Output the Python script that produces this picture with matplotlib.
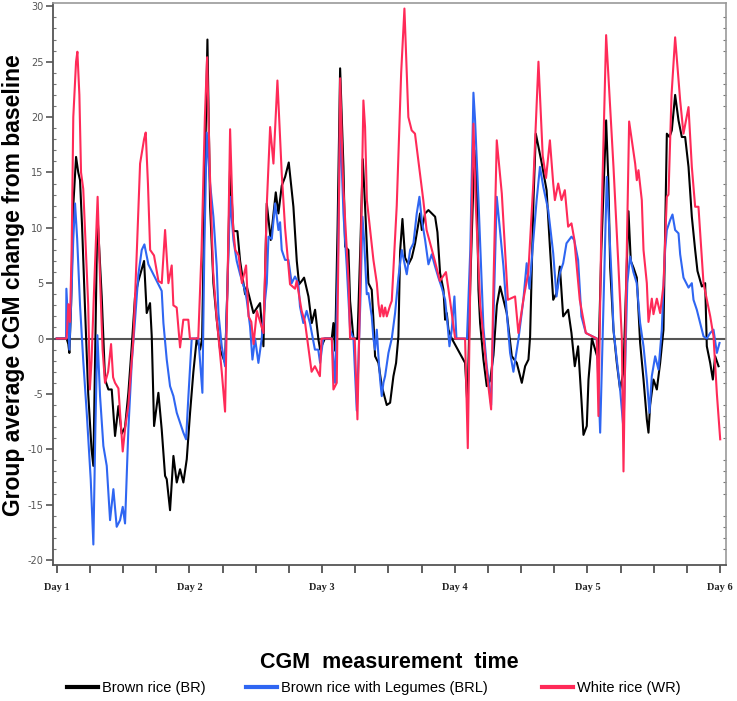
import matplotlib
matplotlib.use("Agg")
import matplotlib.pyplot as plt
from matplotlib.lines import Line2D
from matplotlib.ticker import MultipleLocator

# ---- data (time in hours from Day 1, change from baseline) ----
day_labels = ["Day 1", "Day 2", "Day 3", "Day 4", "Day 5", "Day 6"]
y_ticks = [-20, -15, -10, -5, 0, 5, 10, 15, 20, 25, 30]
series_names = ["Brown rice (BR)", "Brown rice with Legumes (BRL)", "White rice (WR)"]

br_hours = [0, 1.8, 2.1, 2.29, 2.6, 3.0, 3.5, 3.9, 4.22, 4.6, 5.1, 5.7, 6.3, 6.63, 6.9, 7.36, 7.7, 8.14,
            8.74, 9.35, 9.95, 10.55, 11.16, 11.76, 12.36, 12.96, 13.57, 14.17, 14.77, 15.8, 16.28, 16.88,
            17.19, 17.61, 18.39, 18.99, 19.6, 19.9, 20.5, 21.11, 21.71, 22.31, 22.91, 23.52, 24.12, 24.72,
            25.33, 25.93, 26.3, 26.7, 27.26, 27.74, 28.34, 28.94, 29.55, 30.45, 30.9, 31.36, 31.96, 32.68,
            33.17, 34.07, 34.37, 35.58, 36.78, 37.39, 37.99, 38.71, 39.62, 40.10, 40.70, 41.31, 41.97,
            42.81, 43.42, 43.84, 44.32, 44.74, 45.53, 46.13, 46.73, 47.34, 47.64, 48.5, 49.75, 50.05,
            50.35, 50.8, 51.26, 51.86, 52.16, 52.76, 53.06, 53.67, 54.4, 54.9, 55.36, 55.77, 56.38, 56.98,
            57.28, 57.58, 58.19, 58.79, 59.69, 60.30, 60.90, 61.38, 61.80, 62.11, 62.53, 63.01, 63.61,
            64.22, 64.82, 65.72, 66.03, 66.63, 67.23, 67.83, 68.44, 68.86, 69.34, 69.95, 70.25, 70.55,
            70.85, 71.45, 73.86, 74.29, 74.8, 75.55, 75.98, 76.28, 76.58, 77.18, 77.78, 78.39, 78.99,
            79.6, 80.2, 80.8, 81.40, 82.31, 83.21, 84.12, 84.72, 85.32, 85.62, 86.23, 86.65, 87.7,
            88.6, 89.2, 89.8, 90.4, 91.0, 91.6, 92.5, 93.1, 93.7, 94.3, 94.9, 95.27, 95.87, 96.18,
            96.8, 97.98, 98.5, 99.37, 99.79, 100.10, 100.70, 101.30, 101.90, 102.5,
            103.0, 103.41, 103.83, 104.32, 104.92, 105.52, 106.13, 106.73, 107.03, 107.33, 107.93,
            108.54, 109.14, 109.74, 110.04, 110.35, 110.83, 111.25, 111.85, 112.46, 113.06, 113.66,
            114.27, 114.87, 115.47, 115.89, 116.68, 117.28, 117.58, 118.19, 118.67, 119.09, 119.70]
br_values = [0, 0, -0.5, -1.3, 3, 12, 16.4, 15, 14.3, 10, 3, -5, -10, -11.5, -3, 11.3, 8, 3.8,
             -3.7, -4.6, -4.6, -8.8, -6.1, -8.6, -8, -4.9, -0.7, 3.8, 5.2, 7.0, 2.3, 3.2,
             0.2, -7.9, -4.9, -8.2, -12.4, -12.7, -15.5, -10.6, -13, -11.8, -13, -10.9, -6.7, -3,
             0, -1, 0, 12, 27.0, 12, 5, 1.7, -1, -2.2, 5, 15.5, 9.7, 9.7,
             7, 4, 4.7, 2.3, 3.2, -0.7, 12.2, 8.9, 13.2, 11.3, 13.8, 14.6, 15.9,
             11.9, 7.0, 4.9, 5.2, 5.5, 3.8, 1.4, 2.6, -0.1, -1, 0, 0, 1.4,
             -1.1, 10, 24.4, 15.5, 8.3, 8, 3.4, 0, 0, 8, 16.2, 12, 5, 4.4,
             1.7, -1.6, -2.2, -4.3, -6, -5.8, -3.4, -2.2, 0.2, 7.9, 10.8, 7.3, 6.7,
             7.3, 8.6, 11.3, 9.8, 11.3, 11.6, 11.3, 11, 9.6, 5.9, 4.4, 1.7, 2.3,
             0.8, 0, -2.2, -6.1, 5, 17, 14, 4.4, 1.4, -1.9, -4.3, -3.8, -1.5,
             3, 4.7, 3.5, 2.3, -1.6, -2.2, -4, -2.5, -1.9, 0.2, 12.5, 18.5, 15.9,
             13.4, 8.3, 3.5, 4.1, 6.5, 2.0, 2.6, 0.5, -2.5, -0.7, -5.5, -8.7, -7.9, -3.7,
             0, -2, 8, 19.7, 14, 6.4, 0.8, -2.2, -4.6, -3,
             5, 11.5, 7.0, 6.4, 5.5, -0.4, -3.7, -7.3, -8.5, -6, -3.7,
             -4.6, -2.2, 0.8, 9.7, 18.5, 18.2, 18.8, 22, 19.7, 18.2, 18.2,
             15.5, 11, 8, 6.1, 4.7, 5, -0.7, -2.2, -3.7, -1.6, -2.5]

brl_hours = [0, 1.69, 1.75, 2.29, 2.59, 3.0, 3.32, 3.7, 4.22, 4.8, 5.43, 6.15, 6.63, 7.0, 7.36, 7.84,
             8.44, 9.05, 9.65, 10.25, 10.85, 11.46, 11.94, 12.36, 12.96, 13.57, 14.17, 14.77, 15.38,
             15.86, 16.58, 17.49, 18.39, 18.99, 19.30, 19.90, 20.50, 21.11, 21.71, 22.31, 22.91, 23.40,
             23.82, 24.42, 25.63, 26.35, 26.7, 27.14, 27.74, 28.34, 28.94, 29.25, 29.85, 30.45, 30.9,
             31.36, 31.96, 32.56, 33.17, 34.07, 34.37, 34.97, 35.40, 35.88, 36.48, 37.08, 37.69, 38.0,
             38.3, 38.9, 39.5, 40.1, 40.4, 40.7, 41.3, 41.9, 42.5, 43.1, 43.7, 44.0, 44.6, 45.2, 45.8,
             46.7, 47.3, 47.64, 48.2, 49.75, 50.35, 50.9, 51.26, 51.86, 52.46, 52.76,
             53.06, 53.67, 54.27, 54.9, 55.3, 55.59, 56.08, 56.38, 56.98, 57.28, 57.58, 57.89, 58.19,
             58.49, 58.79, 59.09, 59.39, 60.00, 60.60, 61.20, 61.80, 62.41, 63.01, 63.31, 63.92, 64.52,
             65.12, 65.60, 66.03, 66.63, 67.23, 67.83, 68.44, 69.04, 69.64, 70.25, 70.67, 71.03, 71.45,
             71.93, 72.3, 74.2, 74.8, 75.37, 75.67, 76.28, 76.88, 77.18, 77.78, 78.09, 78.57, 79.0,
             79.59, 80.20, 80.80, 81.40, 82.0, 82.6, 83.5, 84.4, 85.0, 85.5, 86.2, 86.8, 87.4, 88.0,
             88.9, 89.8, 90.4, 91.0, 91.6, 92.2, 93.1, 93.6, 94.3, 94.9, 95.7,
             97.68, 98.29, 99.49, 99.97, 100.4, 100.7, 101.3, 101.9,
             102.51, 103.2, 103.7, 104.3, 104.9, 105.52, 106.13, 106.73, 107.21, 107.63, 108.24, 108.84,
             109.44, 109.74, 110.04, 110.35, 110.95, 111.37, 111.85, 112.46, 112.76, 113.36, 114.27,
             114.87, 115.17, 115.77, 116.38, 116.98, 117.58, 118.19, 118.79, 119.40, 119.88]
brl_values = [0, 0, 4.5, -1, 3, 9, 12.2, 9, 3, -2, -6.7, -12.7, -18.6, -8, 0.3, -5.2,
              -9.7, -11.5, -16.4, -13.6, -17, -16.4, -15.2, -16.7, -8.2, -2.2, 1.7, 5.8, 8,
              8.5, 6.7, 5.8, 4.9, 4.3, 1.4, -1.9, -4.3, -5.2, -6.7, -7.6, -8.5, -9.1,
              -5.2, 0, 0, -4.9, 8, 18.6, 14, 11, 6.5, 2.3, -0.7, -2.5, 5,
              12.8, 8.9, 7, 5.8, 4.3, 3.5, 1.1, -1.9, 0, -2.2, 0, 3.5, 5.0,
              9.2, 9.0, 12.2, 9.8, 10.5, 8, 7.1, 7.1, 5.0, 5.6, 5.0, 2.9, 1.4, 2.5, 1.4,
              -1, -1, -2.2, 0, 0, -4, 8, 19.7, 11.3, 6.5, 3.7,
              0.8, 0, -6.5, 3, 11, 8.9, 4, 4.1, 2, 0, -1, 0.8, -1.6,
              -3.7, -5.2, -4, -3.4, -1.3, 0, 2.3, 5.5, 8, 6.5, 5.8, 8, 8.6,
              11.3, 12.8, 10.7, 8.9, 6.7, 7.6, 6.5, 5.5, 4.6, 3.5, 1.4, -0.7, 0.8,
              3.8, 0, 0, 8, 22.2, 19.7, 12.5, 5, 1, -2.5, -3.7, -6.0, 2,
              12.8, 9.6, 6.5, 2.3, -1.3, -3.0, -0.1, 3.5, 6.8, 4.5, 8.9, 12.5, 15.5, 13.7,
              11.6, 7.7, 3.8, 5.9, 6.8, 8.6, 9.2, 8.9, 7.1, 2.0, 0.5,
              0, -8.5, 14.6, 9.5, 5, 0.8, -1.9, -4.6,
              -8.2, 5, 7.4, 6, 5, 1.4, -0.7, -3.7, -6.7, -3.4, -1.6, -2.8,
              0.8, 4.7, 8, 9.8, 10.7, 11.2, 9.8, 9.5, 7.6, 5.5, 4.6,
              5, 3.5, 2.6, 1.4, 0.2, 0, 0.5, 0.8, -1.3, -0.4]

wr_hours = [0, 1.8, 2.1, 2.4, 2.7, 3.0, 3.5, 3.74, 4.1, 4.4, 4.8, 5.1, 5.7, 6.0, 6.3, 6.8, 7.4, 7.8,
            8.3, 8.74, 9.3, 9.83, 10.2, 10.55, 11.16, 11.5, 11.94, 12.4, 12.96, 13.87, 14.5, 15.08,
            15.8, 16.1, 16.5, 16.9, 17.6, 18.4, 19.0, 19.6, 20.2, 20.8, 21.1, 21.7, 22.31, 22.9, 23.8,
            24.1, 25.6, 26.2, 26.8, 27.2, 27.7, 28.3, 28.9, 29.85, 30.45, 30.9, 31.36, 31.9, 32.3, 32.9,
            33.5, 34.25, 34.7, 35.2, 35.6, 36.2, 36.8, 37.4, 37.99, 38.6, 39.2, 39.92, 40.7, 41.3, 42.2,
            43.1, 43.4, 44.3, 44.9, 46.1, 46.7, 47.6, 47.9, 49.75, 50.05, 50.65, 51.0, 51.26, 51.8,
            52.8, 53.06, 53.9, 54.39, 54.9, 55.47, 55.77, 56.1, 57.28, 57.9, 58.2, 58.5, 58.8, 59.1,
            59.4, 59.7, 60.3, 60.6, 61.5, 62.3, 62.89, 63.6, 64.2, 64.8, 65.7, 66.3, 66.9, 68.4, 69.3,
            70.4, 71.15, 72.06, 73.86, 74.35, 74.8, 75.37, 75.8, 76.6, 77.2, 78.0, 78.57, 79.0, 79.59,
            80.5, 81.6, 82.9, 83.5, 84.4, 85.3, 86.2, 87.13, 87.9, 88.5, 89.2, 89.8, 90.1, 90.7,
            91.3, 91.9, 92.5, 93.1, 93.6, 94.6, 95.7, 97.68, 97.98, 98.5, 99.37,
            100.7, 101.6, 102.21, 102.51, 103.0, 103.53, 104.01, 104.62, 104.92, 105.22, 105.82,
            106.13, 106.73, 107.03, 107.63, 107.93, 108.54, 109.14, 109.74, 110.35, 110.65, 111.2,
            111.85, 112.76, 113.36, 114.27, 114.87, 115.47, 116.07, 116.98, 117.58, 118.2, 118.79,
            119.4, 120.0]
wr_values = [0, 0, 3.1, 1.5, 8, 20, 25, 25.9, 22, 15, 13.5, 10, 3, -4.6, -2, 5, 12.8, 6,
             -1, -4, -3, -0.5, -3.5, -4, -4.5, -7, -10.2, -8, -6, 0, 8, 15.8,
             18, 18.6, 14, 8, 7.5, 5.2, 5, 9.8, 5, 6.6, 3, 2.8, -0.8, 1.7, 1.7,
             0, 0, 8, 20, 25.4, 15, 6, 2, -3, -6.6, 5, 18.9, 10, 8, 7.5,
             5, 6.6, 2, 1.5, -0.5, 2.5, 1.5, 0.5, 12, 19.1, 15.8, 23.3, 14.9, 10, 4.9,
             4.5, 5.2, 2.5, 1.5, -3, -2.5, -3.4, 0, 0, -4.6, -4, 10, 23.5, 14,
             5, 0, 0, -7.3, 5, 21.5, 19.1, 12.5, 7.1, 5, 3.1, 2, 3, 2,
             2.8, 2, 3, 3.4, 12, 24, 29.8, 20, 18.8, 18.5, 14.9, 12.5, 9.8, 7.0, 5.2,
             6.0, 3.4, 0, 0, -9.9, 5, 19.4, 12, 3, 0, -4, -6.4, 5, 17.9,
             13.1, 3.5, 3.8, 0.5, 3.5, 6, 14, 25.0, 16.5, 14.5, 17.9, 14, 12.5, 14,
             12.5, 13.4, 10.1, 10.4, 9, 3.5, 0.5, 0, -7.0, 10, 27.4,
             15.5, 6.5, 0, -12.0, 5, 19.6, 17.9, 15.8, 14.3, 15.2, 12.5,
             8, 5, 1.5, 3.6, 2.2, 3.6, 2.3, 4.8, 12.8, 13, 22,
             27.2, 21.5, 18.5, 20.9, 15.5, 11.9, 11.9, 5, 3.5, 2, 0.2,
             -5, -9.1]

# ---- figure ----
W, H = 737, 701
fig = plt.figure(figsize=(W / 100, H / 100), dpi=100)
ax = fig.add_axes([53 / W, 1 - 565 / H, 673 / W, 562 / H])

c_br, c_brl, c_wr = "#000000", "#2F66F2", "#FF2A58"
lw = 1.5
ax.axhline(0, color="#555555", lw=1.5, zorder=1)
ax.plot(br_hours, br_values, color=c_br, lw=lw, zorder=2)
ax.plot(brl_hours, brl_values, color=c_brl, lw=lw, zorder=3)
ax.plot(wr_hours, wr_values, color=c_wr, lw=lw, zorder=4)

ax.set_xlim(-0.67, 121.05)
ax.set_ylim(-20.45, 30.3)

ax.set_xticks([24 * i for i in range(len(day_labels))])
ax.set_xticklabels(day_labels, fontfamily="Liberation Serif", fontsize=7.5,
                   fontweight="bold", color="#222222")
ax.xaxis.set_minor_locator(MultipleLocator(6))
ax.set_yticks(y_ticks)
ax.set_yticklabels([str(v) for v in y_ticks], fontfamily="DejaVu Sans", fontsize=7,
                   color="#555555")
ax.yaxis.set_minor_locator(MultipleLocator(1))

ax.tick_params(axis="x", which="both", direction="out", length=6, width=1.2,
               color="#444444", pad=7)
ax.tick_params(axis="y", which="major", direction="out", length=5, width=1.2,
               color="#555555", pad=2)
ax.tick_params(axis="y", which="minor", direction="out", length=2, width=0.8,
               color="#777777")
ax.tick_params(axis="y", which="minor", right=True, direction="in", length=2)

for side in ["left", "bottom"]:
    ax.spines[side].set_color("#555555")
    ax.spines[side].set_linewidth(1.3)
for side in ["top", "right"]:
    ax.spines[side].set_color("#999999")
    ax.spines[side].set_linewidth(1.2)

fig.text(14 / W, 1 - 285 / H, "Group average CGM change from baseline",
         rotation=90, ha="center", va="center", fontfamily="Liberation Sans",
         fontweight="bold", fontsize=16.5)
fig.text(389 / W, 1 - 662 / H, "CGM  measurement  time", ha="center", va="center",
         fontfamily="Liberation Sans", fontweight="bold", fontsize=15.5)

# legend entries placed individually
colors = [c_br, c_brl, c_wr]
starts = [63, 242, 538]
for name, col, x0 in zip(series_names, colors, starts):
    h = Line2D([], [], color=col, lw=3)
    fig.legend(handles=[h], labels=[name], loc="center left",
               bbox_to_anchor=(x0 / W - 0.012, 1 - 688 / H), frameon=False,
               handlelength=2.1, handletextpad=0.3,
               prop={"family": "Liberation Sans", "size": 10.5})

fig.savefig("out.png", dpi=100)
